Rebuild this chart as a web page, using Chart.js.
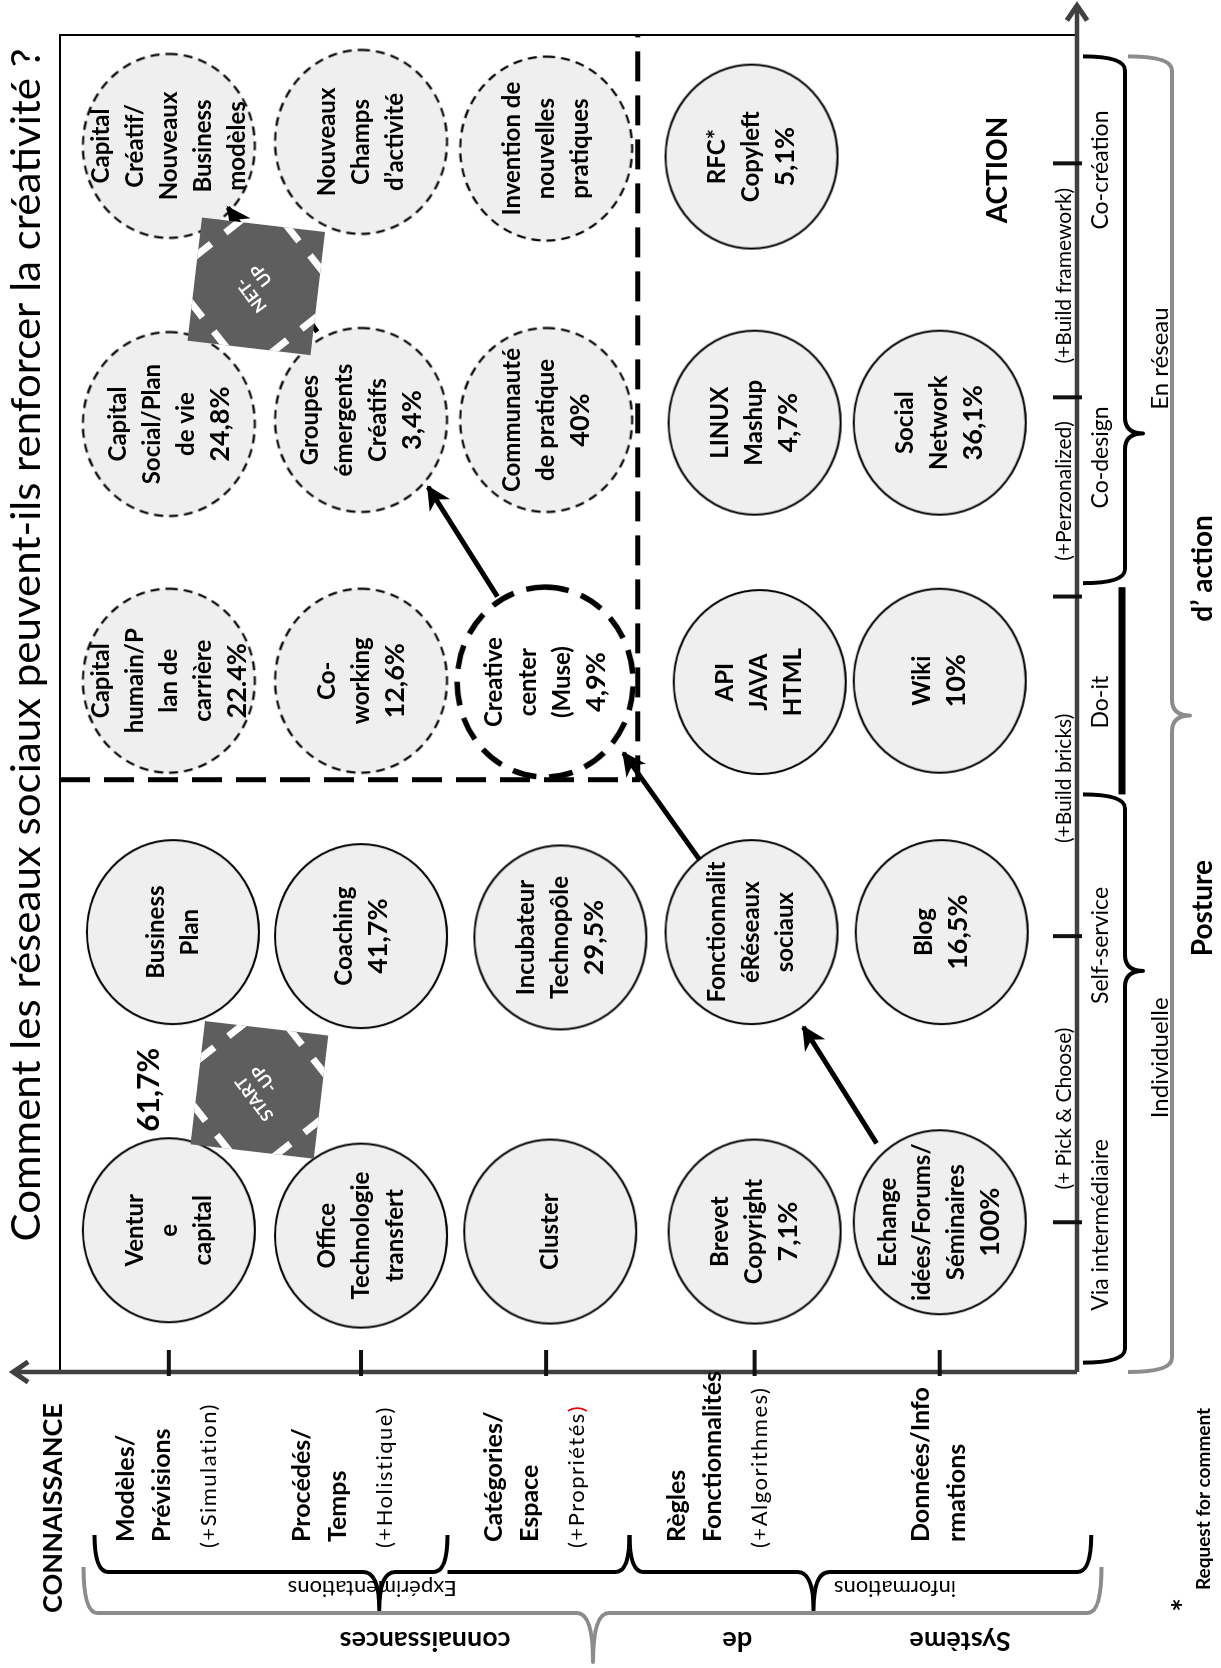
<!DOCTYPE html>
<html lang="fr">
<head>
<meta charset="utf-8">
<title>Réseaux sociaux et créativité</title>
<script src="https://cdn.jsdelivr.net/npm/chart.js@4.4.1/dist/chart.umd.min.js"></script>
<style>
  html, body { margin: 0; padding: 0; overflow: hidden; background: #fff; }
  /* the figure is drawn in landscape and turned a quarter left, like the original page */
  #wrap { position: absolute; left: 0; top: 0; width: 1668px; height: 1221px;
          transform-origin: 0 0; transform: translate(0, 1668px) rotate(-90deg); }
</style>
</head>
<body>
<div id="wrap"><canvas id="chart" width="1668" height="1221"></canvas></div>
<script>
const title = 'Comment les réseaux sociaux peuvent-ils renforcer la créativité ?';

// x axis : posture d'action (0 - 100)
const postures = ['Via intermédiaire', 'Self-service', 'Do-it', 'Co-design', 'Co-création'];
const postureX = [11.0, 31.9, 50.1, 68.4, 89.9];
const modes = ['(+ Pick & Choose)', '(+Build bricks)', '(+Perzonalized)', '(+Build framework)'];
const modeX = [19.7, 44.4, 65.9, 82.0];
const xTicks = [11.2, 32.6, 58.0, 72.9, 90.4];

// y axis : système de connaissances (0 - 100)
const knowledge = [
  ['Modèles/', 'Prévisions', '(+Simulation)'],
  ['Procédés/', 'Temps', '(+Holistique)'],
  ['Catégories/', 'Espace', '(+Propriétés)'],
  ['Règles', 'Fonctionnalités', '(+Algorithmes)'],
  ['Données/Info', 'rmations']
];
const knowledgeY = [93.5, 76.2, 57.3, 39.3, 15.3];
const yTicks = [89.3, 70.4, 52.2, 31.7, 13.5];

// tools / dispositifs
const toolNames = [
  ['Ventur', 'e', 'capital'], ['Office', 'Technologie', 'transfert'], ['Cluster'], ['Brevet', 'Copyright'], ['Echange', 'idées/Forums/', 'Séminaires'],
  ['Business', 'Plan'], ['Coaching'], ['Incubateur', 'Technopôle'], ['Fonctionnalit', 'éRéseaux', 'sociaux'], ['Blog'],
  ['Capital', 'humain/P', 'lan de', 'carrière'], ['Co-', 'working'], ['Creative', 'center', '(Muse)'], ['API', 'JAVA', 'HTML'], ['Wiki'],
  ['Capital', 'Social/Plan', 'de vie'], ['Groupes', 'émergents', 'Créatifs'], ['Communauté', 'de pratique'], ['LINUX', 'Mashup'], ['Social', 'Network'],
  ['Capital', 'Créatif/', 'Nouveaux', 'Business', 'modèles'], ['Nouveaux', 'Champs', 'd’activité'], ['Invention de', 'nouvelles', 'pratiques'], ['RFC*', 'Copyleft']
];
const toolShare = ['', '', '', '7,1%', '100%', '', '41,7%', '29,5%', '', '16,5%',
  '22.4%', '12,6%', '4,9%', '', '10%', '24,8%', '3,4%', '40%', '4,7%', '36,1%', '', '', '', '5,1%'];
const toolX = [10.6, 10.2, 10.5, 10.5, 11.2, 32.9, 32.6, 32.5, 32.9, 32.9, 51.7, 51.7, 51.6, 51.6, 51.7,
  70.9, 71.2, 71.2, 71.0, 71.0, 91.7, 92.0, 91.5, 90.9];
const toolY = [89.3, 70.4, 51.8, 31.7, 13.5, 88.9, 70.4, 50.8, 32.0, 13.3, 89.3, 70.4, 52.3, 31.2, 13.5,
  89.3, 70.4, 52.2, 31.7, 13.5, 89.3, 70.4, 52.2, 32.0];
const toolKind = ['solid', 'solid', 'solid', 'solid', 'solid', 'solid', 'solid', 'solid', 'solid', 'solid',
  'dashed', 'dashed', 'creative', 'solid', 'solid', 'dashed', 'dashed', 'dashed', 'solid', 'solid',
  'dashed', 'dashed', 'dashed', 'solid'];

// paths between tools
const arrowFrom = [[17.1, 19.7], [38.3, 37.1], [58.0, 57.0], [77.8, 74.7]];
const arrowTo = [[25.8, 26.9], [46.3, 44.6], [66.2, 63.8], [87.1, 83.5]];
const dividerX = [44.3, 44.3, 100];
const dividerY = [100, 43.2, 43.2];

const badges = [['START', '-UP'], ['NET-', 'UP']];
const badgeX = [21.1, 81.2];
const badgeY = [80.4, 80.7];
const startShare = '61,7%';

const FONT = 'Lato, "Open Sans", sans-serif';

function ellipseStyle(rx, ry, dash, lw, fill) {
  const c = document.createElement('canvas');
  c.width = Math.ceil(2 * rx + lw + 4);
  c.height = Math.ceil(2 * ry + lw + 4);
  const g = c.getContext('2d');
  g.beginPath();
  g.ellipse(c.width / 2, c.height / 2, rx, ry, 0, 0, Math.PI * 2);
  g.fillStyle = fill;
  g.fill();
  g.setLineDash(dash);
  g.lineWidth = lw;
  g.strokeStyle = '#000';
  g.stroke();
  return c;
}

const circleStyles = {
  solid: ellipseStyle(92, 86, [], 2, '#efefef'),
  dashed: ellipseStyle(92, 86, [9, 6], 2.2, '#efefef'),
  creative: ellipseStyle(95, 88, [24, 13], 5.5, '#ffffff')
};

function brace(ctx, vertical, u1, u2, ut, vLine, vEnd, vTip, curl1, curl2) {
  const P = (u, v) => vertical ? [v, u] : [u, v];
  const s = Math.sign(u2 - u1);
  ctx.beginPath();
  if (curl1) {
    ctx.moveTo(...P(u1, vEnd));
    ctx.quadraticCurveTo(...P(u1, vLine), ...P(u1 + 14 * s, vLine));
  } else {
    ctx.moveTo(...P(u1, vLine));
  }
  if (ut != null) {
    ctx.lineTo(...P(ut - 16 * s, vLine));
    ctx.quadraticCurveTo(...P(ut, vLine), ...P(ut, vTip));
    ctx.quadraticCurveTo(...P(ut, vLine), ...P(ut + 16 * s, vLine));
  }
  if (curl2) {
    ctx.lineTo(...P(u2 - 14 * s, vLine));
    ctx.quadraticCurveTo(...P(u2, vLine), ...P(u2, vEnd));
  } else {
    ctx.lineTo(...P(u2, vLine));
  }
  ctx.stroke();
}

function text(ctx, t, x, y, font, align = 'center', rot = 0, color = '#000') {
  ctx.save();
  ctx.translate(x, y);
  ctx.rotate(rot);
  ctx.font = font;
  ctx.fillStyle = color;
  ctx.textAlign = align;
  ctx.textBaseline = 'middle';
  ctx.fillText(t, 0, 0);
  ctx.restore();
}

function chevron(ctx, x, y, ang, len) {
  ctx.beginPath();
  ctx.moveTo(x - len * Math.cos(ang - 0.6), y - len * Math.sin(ang - 0.6));
  ctx.lineTo(x, y);
  ctx.lineTo(x - len * Math.cos(ang + 0.6), y - len * Math.sin(ang + 0.6));
  ctx.stroke();
}

function drawBadge(ctx, cx, cy, lines) {
  const s = 62;
  ctx.save();
  ctx.translate(cx, cy);
  ctx.rotate(6.7 * Math.PI / 180);
  ctx.fillStyle = '#5e5e5e';
  ctx.fillRect(-s, -s, 2 * s, 2 * s);
  ctx.beginPath();
  ctx.rect(-s, -s, 2 * s, 2 * s);
  ctx.clip();
  ctx.strokeStyle = '#fff';
  ctx.lineWidth = 7;
  const r2 = Math.SQRT2;
  for (const [sx, sy] of [[1, 1], [1, -1], [-1, 1], [-1, -1]]) {
    const k = 0.99 * s;
    const cx0 = sx * k / r2, cy0 = sy * k / r2;
    const px = -sy / r2, py = sx / r2;
    for (const d of [1, -1]) {
      ctx.beginPath();
      ctx.moveTo(cx0 + d * px * 9, cy0 + d * py * 9);
      ctx.lineTo(cx0 + d * px * 40, cy0 + d * py * 40);
      ctx.stroke();
    }
  }
  ctx.restore();
  ctx.save();
  ctx.translate(cx, cy);
  ctx.rotate(-37 * Math.PI / 180);
  ctx.fillStyle = '#fff';
  ctx.font = 'bold 17px ' + FONT;
  ctx.textAlign = 'center';
  ctx.textBaseline = 'middle';
  ctx.fillText(lines[0], -4, -9);
  ctx.fillText(lines[1], 6, 11);
  ctx.restore();
}

const annotate = {
  id: 'annotate',
  beforeDatasetsDraw(chart) {
    const { ctx, chartArea: a, scales: { x, y } } = chart;
    ctx.save();
    ctx.strokeStyle = '#000';
    ctx.lineWidth = 2;
    ctx.beginPath();
    ctx.moveTo(a.left, a.top);
    ctx.lineTo(a.right, a.top);
    ctx.lineTo(a.right, a.bottom);
    ctx.stroke();

    // axes with arrows
    ctx.strokeStyle = '#404040';
    ctx.lineWidth = 4.5;
    const yTop = y.getPixelForValue(104.6), xEnd = x.getPixelForValue(102.2);
    ctx.beginPath();
    ctx.moveTo(a.left, a.bottom);
    ctx.lineTo(a.left, yTop + 2);
    ctx.moveTo(a.left, a.bottom);
    ctx.lineTo(xEnd - 2, a.bottom);
    ctx.stroke();
    ctx.lineWidth = 5;
    chevron(ctx, a.left, yTop, -Math.PI / 2, 18);
    chevron(ctx, xEnd, a.bottom, 0, 18);

    // ticks
    ctx.strokeStyle = '#111';
    ctx.lineWidth = 4;
    yTicks.forEach(v => {
      const p = y.getPixelForValue(v);
      ctx.beginPath(); ctx.moveTo(a.left - 4, p); ctx.lineTo(a.left + 22, p); ctx.stroke();
    });
    xTicks.forEach(v => {
      const p = x.getPixelForValue(v);
      ctx.beginPath(); ctx.moveTo(p, a.bottom + 5); ctx.lineTo(p, a.bottom - 24); ctx.stroke();
    });
    ctx.restore();
  },
  afterDatasetDraw(chart, args) {
    const ctx = chart.ctx;
    const ds = chart.data.datasets[args.index];
    if (ds.label === 'tools') {
      args.meta.data.forEach((pt, i) => {
        const lines = toolNames[i].map(t => [t, 'bold 24px ' + FONT]);
        if (toolShare[i]) lines.push([toolShare[i], 'bold 27px ' + FONT]);
        const lh = 34;
        let yy = pt.y - (lines.length - 1) * lh / 2;
        lines.forEach(([t, f]) => { text(ctx, t, pt.x, yy, f); yy += lh; });
      });
    }
    if (ds.label === 'arrow') {
      const [p0, p1] = args.meta.data;
      const ang = Math.atan2(p1.y - p0.y, p1.x - p0.x);
      ctx.save();
      ctx.translate(p1.x, p1.y);
      ctx.rotate(ang);
      ctx.fillStyle = '#000';
      ctx.beginPath();
      ctx.moveTo(2, 0);
      ctx.lineTo(-22, -12);
      ctx.lineTo(-15, 0);
      ctx.lineTo(-22, 12);
      ctx.closePath();
      ctx.fill();
      ctx.restore();
    }
  },
  afterDatasetsDraw(chart) {
    const { ctx, scales: { x, y } } = chart;
    badges.forEach((b, i) => drawBadge(ctx, x.getPixelForValue(badgeX[i]), y.getPixelForValue(badgeY[i]), b));
    text(ctx, startShare, x.getPixelForValue(21.1), y.getPixelForValue(91.2), 'bold 30px ' + FONT);
  },
  afterDraw(chart) {
    const { ctx, chartArea: a, scales: { x, y } } = chart;
    const px = v => x.getPixelForValue(v), py = v => y.getPixelForValue(v);
    ctx.save();

    // title, fitted to the width of the original line
    ctx.font = '40px ' + FONT;
    const w = ctx.measureText(title).width;
    ctx.save();
    ctx.translate(1023, 27);
    ctx.scale(1193 / w, 1);
    text(ctx, title, 0, 0, '40px ' + FONT);
    ctx.restore();

    text(ctx, 'CONNAISSANCE', a.left - 136, 53, 'bold 27px ' + FONT);
    text(ctx, 'ACTION', px(89.9), py(7.8), 'bold 28px ' + FONT);

    // knowledge levels
    knowledge.forEach((lines, g) => {
      let yy = py(knowledgeY[g]);
      lines.forEach((t, i) => {
        const paren = t.startsWith('(');
        if (paren && i > 0) yy += 11;
        ctx.save();
        ctx.letterSpacing = paren ? '1.5px' : '0px';
        if (t === '(+Propriétés)') {
          ctx.font = '22px ' + FONT;
          const head = t.slice(0, -1);
          text(ctx, head, a.left - 176, yy, '22px ' + FONT, 'left');
          text(ctx, ')', a.left - 176 + ctx.measureText(head).width, yy, '22px ' + FONT, 'left', 0, '#e00000');
        } else {
          text(ctx, t, a.left - (paren ? 176 : 170), yy, paren ? '22px ' + FONT : 'bold 25px ' + FONT, 'left');
        }
        ctx.restore();
        yy += 36;
      });
    });

    // postures
    postures.forEach((t, i) => text(ctx, t, px(postureX[i]), a.bottom + 24, '23px ' + FONT));
    modes.forEach((t, i) => text(ctx, t, px(modeX[i]), a.bottom - 13, '21px ' + FONT));

    // braces along the action axis
    ctx.lineJoin = 'round';
    ctx.strokeStyle = '#000';
    ctx.lineWidth = 4;
    brace(ctx, false, px(0.7), px(43.2), px(30.0), 1125, 1083, 1143, true, true);
    brace(ctx, false, px(59.0), px(98.4), px(70.2), 1125, 1083, 1143, true, true);
    ctx.lineWidth = 7;
    brace(ctx, false, px(43.2), px(58.7), null, 1122, 1083, 1122, false, false);
    ctx.strokeStyle = '#8c8c8c';
    ctx.lineWidth = 4;
    brace(ctx, false, px(0), px(98.4), px(49.1), 1172, 1128, 1190, true, true);
    text(ctx, 'Individuelle', px(23.5), 1160, '24px ' + FONT);
    text(ctx, 'En réseau', px(75.8), 1160, '24px ' + FONT);
    text(ctx, 'Posture', px(34.7), 1203, 'bold 28px ' + FONT);
    text(ctx, 'd’ action', px(60.1), 1203, 'bold 28px ' + FONT);

    // braces along the knowledge axis
    ctx.strokeStyle = '#000';
    brace(ctx, true, py(96.6), py(61.9), py(68.6), 96, 133, 58, true, true);
    brace(ctx, true, py(61.9), py(44.0), null, 96, 133, 96, false, true);
    brace(ctx, true, py(44.0), py(-1.4), py(25.9), 96, 133, 58, true, true);
    ctx.strokeStyle = '#8c8c8c';
    brace(ctx, true, py(97.7), py(-2.4), py(47.6), 55, 101, 6, true, true);
    const up = -Math.PI / 2;
    text(ctx, 'Expérimentations', 80, py(69.3), '22px ' + FONT, 'center', up);
    text(ctx, 'informations', 80, py(17.9), '22px ' + FONT, 'center', up);
    text(ctx, 'connaissances', 27, py(64.1), 'bold 27px ' + FONT, 'center', up);
    text(ctx, 'de', 27, py(33.4), 'bold 27px ' + FONT, 'center', up);
    text(ctx, 'Système', 27, py(11.5), 'bold 27px ' + FONT, 'center', up);

    text(ctx, '*', 63, 1186, 'bold 32px ' + FONT);
    text(ctx, 'Request for comment', 78, 1204, 'bold 19px ' + FONT, 'left');
    ctx.restore();
  }
};

const arrowSets = arrowFrom.map((f, i) => ({
  type: 'line',
  label: 'arrow',
  data: [{ x: f[0], y: f[1] }, { x: arrowTo[i][0], y: arrowTo[i][1] }],
  borderColor: '#000',
  borderWidth: 5,
  pointRadius: 0,
  fill: false,
  clip: false,
  order: 1
}));

new Chart(document.getElementById('chart'), {
  type: 'scatter',
  data: {
    datasets: [
      {
        type: 'line',
        label: 'divider',
        data: dividerX.map((v, i) => ({ x: v, y: dividerY[i] })),
        borderColor: '#000',
        borderWidth: 5,
        borderDash: [30, 14],
        pointRadius: 0,
        fill: false,
        clip: false,
        order: 3
      },
      {
        label: 'tools',
        data: toolX.map((v, i) => ({ x: v, y: toolY[i] })),
        pointStyle: c => circleStyles[toolKind[c.dataIndex]],
        pointRadius: 10,
        clip: false,
        order: 2
      },
      ...arrowSets
    ]
  },
  options: {
    responsive: false,
    animation: false,
    devicePixelRatio: 1,
    events: [],
    layout: { padding: { left: 296, right: 35, top: 60, bottom: 144 } },
    scales: {
      x: { type: 'linear', min: 0, max: 100, display: false },
      y: { type: 'linear', min: 0, max: 100, display: false }
    },
    plugins: { legend: { display: false }, tooltip: { enabled: false } }
  },
  plugins: [annotate]
});
</script>
</body>
</html>
